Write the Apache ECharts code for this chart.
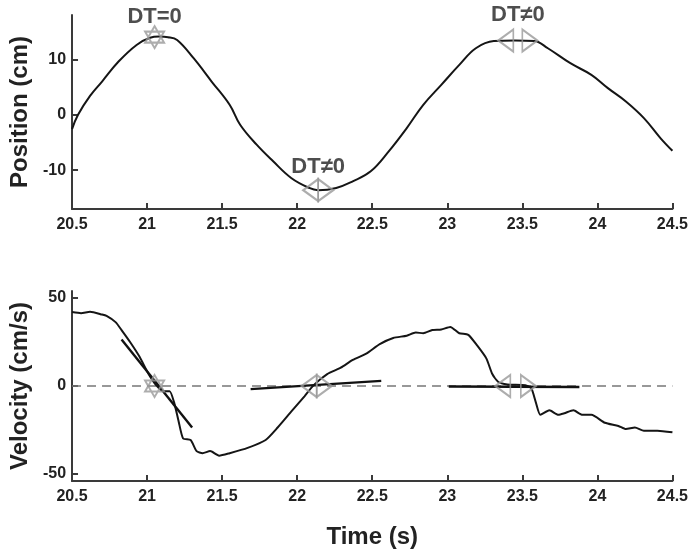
<!DOCTYPE html>
<html><head><meta charset="utf-8">
<script src="https://cdn.jsdelivr.net/npm/echarts@6/dist/echarts.min.js"></script>
<style>html,body{margin:0;padding:0;background:#fff}#c{width:691px;height:556px}</style>
</head><body><div id="c"></div>
<script>
// ---- data ----
const posTime = [20.50,20.54,20.62,20.70,20.81,20.93,21.02,21.08,21.14,21.20,21.31,21.43,21.55,21.62,21.73,21.84,21.96,22.08,22.14,22.26,22.37,22.49,22.61,22.73,22.84,22.96,23.08,23.19,23.31,23.45,23.58,23.67,23.82,23.96,24.07,24.19,24.31,24.42,24.50];
const posVal  = [-2.6,0.0,3.4,6.0,9.6,12.6,13.9,14.1,14.0,13.5,10.2,6.0,1.8,-1.8,-5.4,-8.4,-11.4,-13.2,-13.6,-13.2,-12.0,-10.2,-6.6,-2.4,1.8,5.4,9.0,12.0,13.3,13.4,13.3,12.0,9.3,7.2,4.8,2.4,-0.6,-4.2,-6.5];

const velTime = [20.50,20.56,20.62,20.70,20.73,20.79,20.83,20.89,20.95,21.01,21.06,21.11,21.15,21.18,21.21,21.24,21.29,21.33,21.37,21.42,21.48,21.55,21.67,21.79,21.87,21.96,22.05,22.11,22.20,22.29,22.37,22.46,22.55,22.64,22.73,22.79,22.84,22.90,22.96,23.02,23.08,23.14,23.20,23.26,23.30,23.34,23.40,23.52,23.56,23.59,23.62,23.68,23.74,23.78,23.84,23.90,23.96,24.05,24.14,24.19,24.25,24.31,24.40,24.50];
const velVal  = [42.0,41.4,42.2,40.6,39.8,36.3,31.8,24.6,16.6,6.8,0.5,-3.0,-3.0,-9.3,-20.0,-29.8,-30.7,-37.0,-38.2,-37.0,-39.6,-38.2,-35.2,-30.7,-23.6,-14.6,-5.7,0.5,6.8,10.4,14.8,18.4,23.8,27.3,28.6,30.4,30.0,31.8,32.1,33.6,30.0,29.1,22.9,15.7,6.8,2.3,0.9,0.5,-1.3,-9.3,-16.4,-13.8,-16.4,-15.5,-13.8,-16.4,-16.4,-20.9,-22.7,-24.5,-23.6,-25.4,-25.4,-26.3];

const zeroT = [20.5, 24.5];
const zeroV = [0, 0];
const tan1T = [20.83, 21.30], tan1V = [26.4, -23.6];
const tan2T = [21.69, 22.56], tan2V = [-1.8, 2.9];
const tan3T = [23.01, 23.88], tan3V = [-0.3, -0.6];

const posTicks = [-10, 0, 10];
const velTicks = [-50, 0, 50];

// markers: [time, value]
const posStar = [[21.05, 14.0]];
const posLeftTri = [[22.14, -13.6], [23.44, 13.4]];
const posRightTri = [[22.14, -13.6], [23.50, 13.4]];
const velStar = [[21.05, 0]];
const velLeftTri = [[22.13, 0], [23.42, 0]];
const velRightTri = [[22.13, 0], [23.49, 0]];

const labelText = ['DT=0', 'DT\u22600', 'DT\u22600'];
const labelT = [21.05, 22.14, 23.47];
const labelV = [14.0, -13.6, 13.4];

// ---- helpers ----
const zip = (a, b) => a.map((x, i) => [x, b[i]]);
const FONT = "'Liberation Sans', Arial, sans-serif";
const AX = '#3a3a3a', TXT = '#222', MK = '#999';

function xAxis(gi, name) {
  return {
    type: 'value', gridIndex: gi, min: 20.5, max: 24.5, interval: 0.5,
    name: name || '', nameLocation: 'middle', nameGap: 44,
    nameTextStyle: {fontFamily: FONT, fontWeight: 'bold', fontSize: 24, color: TXT},
    axisLine: {show: true, onZero: false, lineStyle: {color: AX, width: 2}},
    axisTick: {show: true, inside: true, length: 6, lineStyle: {color: AX, width: 2}},
    axisLabel: {fontFamily: FONT, fontWeight: 'bold', fontSize: 16, color: TXT, margin: 8},
    splitLine: {show: false}
  };
}
function yAxis(gi, min, max, ticks, name) {
  return {
    type: 'value', gridIndex: gi, min: min, max: max,
    name: name, nameLocation: 'middle', nameGap: 30,
    nameTextStyle: {fontFamily: FONT, fontWeight: 'bold', fontSize: 24, color: TXT},
    axisLine: {show: true, onZero: false, lineStyle: {color: AX, width: 2}},
    axisTick: {show: true, inside: true, length: 6, customValues: ticks, lineStyle: {color: AX, width: 2}},
    axisLabel: {fontFamily: FONT, fontWeight: 'bold', fontSize: 16, color: TXT, margin: 6, customValues: ticks},
    splitLine: {show: false}
  };
}

const LEFT_TRI = 'path://M15,0 L0,11 L15,22 Z';
const RIGHT_TRI = 'path://M0,0 L15,11 L0,22 Z';
const STAR = 'path://M10,0 L18.66,15 L1.34,15 Z M10,20 L18.66,5 L1.34,5 Z';
const mkStyle = {color: 'rgba(0,0,0,0)', borderColor: MK, borderWidth: 2};

function markerSeries(gi, data, symbol, size, offset) {
  return {
    type: 'scatter', xAxisIndex: gi, yAxisIndex: gi, data: data,
    symbol: symbol, symbolSize: size, symbolOffset: offset, symbolKeepAspect: false,
    itemStyle: mkStyle, z: 5, silent: true, clip: false
  };
}
function lineSeries(gi, data, opts) {
  return Object.assign({
    type: 'line', xAxisIndex: gi, yAxisIndex: gi, data: data, showSymbol: false, symbol: 'none',
    lineStyle: {color: '#151515', width: 2}, silent: true, z: 3
  }, opts || {});
}

const labelDist = [9, 12, 14];
const labelGrid = [0, 0, 0];

const option = {
  animation: false,
  backgroundColor: '#fff',
  grid: [
    {left: 55, right: 18, top: 15, height: 194},
    {left: 55, right: 18, top: 291, height: 190}
  ],
  xAxis: [xAxis(0), xAxis(1, 'Time (s)')],
  yAxis: [yAxis(0, -17, 18, posTicks, 'Position (cm)'), yAxis(1, -54, 54, velTicks, 'Velocity (cm/s)')],
  series: [
    lineSeries(0, zip(posTime, posVal), {smooth: 0.4}),
    lineSeries(1, zip(zeroT, zeroV), {lineStyle: {color: '#777', width: 1.5, type: [9, 6]}, z: 2}),
    lineSeries(1, zip(velTime, velVal), {smooth: 0.2}),
    lineSeries(1, zip(tan1T, tan1V), {lineStyle: {color: '#111', width: 2.4}}),
    lineSeries(1, zip(tan2T, tan2V), {lineStyle: {color: '#111', width: 2.4}}),
    lineSeries(1, zip(tan3T, tan3V), {lineStyle: {color: '#111', width: 2.4}}),
    markerSeries(0, posStar, STAR, [19, 22], [0, 0]),
    markerSeries(0, posLeftTri, LEFT_TRI, [15, 22], [-7.5, 0]),
    markerSeries(0, posRightTri, RIGHT_TRI, [15, 22], [7.5, 0]),
    markerSeries(1, velStar, STAR, [19, 22], [0, 0]),
    markerSeries(1, velLeftTri, LEFT_TRI, [15, 22], [-7.5, 0]),
    markerSeries(1, velRightTri, RIGHT_TRI, [15, 22], [7.5, 0]),
    {
      type: 'scatter', xAxisIndex: 0, yAxisIndex: 0, symbolSize: 1, clip: false, silent: true,
      itemStyle: {color: 'rgba(0,0,0,0)'}, z: 6,
      data: labelText.map((t, i) => ({
        value: [labelT[i], labelV[i]],
        label: {show: true, position: 'top', distance: labelDist[i], formatter: t,
          fontFamily: FONT, fontWeight: 'bold', fontSize: 22, color: TXT}
      }))
    }
  ]
};
const chart = echarts.init(document.getElementById('c'), null, {renderer: 'canvas'});
chart.setOption(option);
</script></body></html>
